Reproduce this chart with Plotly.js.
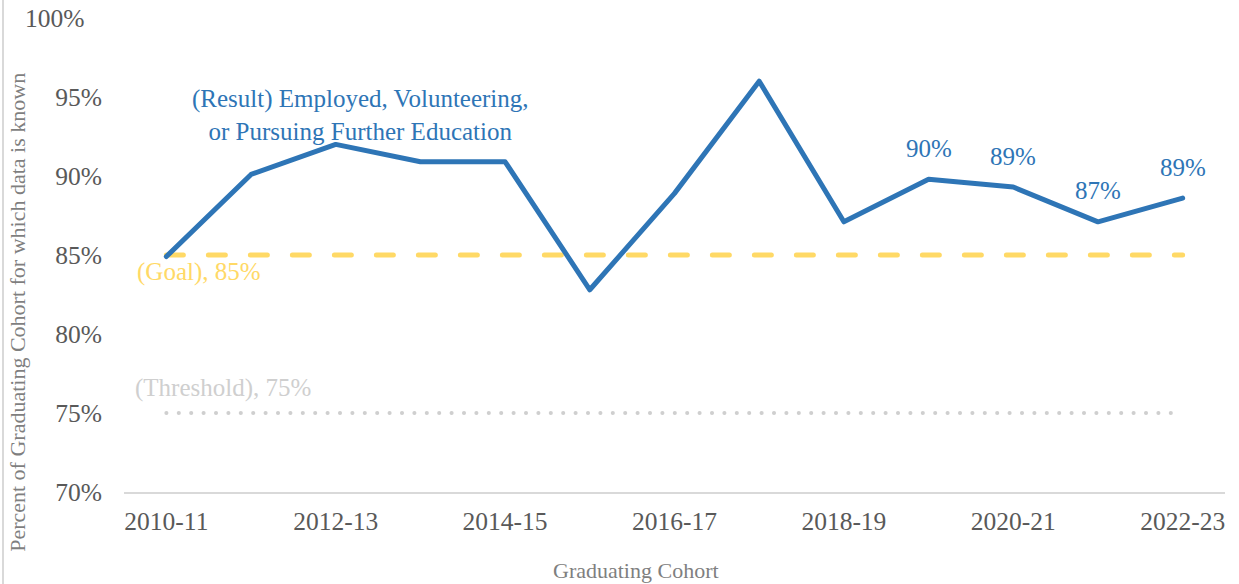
<!DOCTYPE html>
<html>
<head>
<meta charset="utf-8">
<script src="https://cdn.plot.ly/plotly-3.0.1.min.js"></script>
<style>
  html, body { margin: 0; padding: 0; background: #fff; }
  #wrap { position: relative; width: 1239px; height: 584px; }
  #chart { width: 1239px; height: 584px; }
  #edge { position: absolute; left: 2px; top: 0; width: 2px; height: 584px; background: #d9d9d9; z-index: 5; }
  .scatterlayer .js-line { stroke-linecap: round; stroke-linejoin: round; }
</style>
</head>
<body>
<div id="wrap">
  <div id="edge"></div>
  <div id="chart"></div>
</div>
<script>
// ---- data ----
const cohorts = ["2010-11","2011-12","2012-13","2013-14","2014-15","2015-16","2016-17",
                 "2017-18","2018-19","2019-20","2020-21","2021-22","2022-23"];
const resultValues = [84.9, 90.1, 92.0, 90.9, 90.9, 82.8, 88.9, 96.0, 87.1, 89.8, 89.3, 87.1, 88.6];
const goalValues = [85,85,85,85,85,85,85,85,85,85,85,85,85];
const thresholdValues = [75,75,75,75,75,75,75,75,75,75,75,75,75];
const dataLabels = ["","","","","","","","","","90%","89%","87%","89%"];
const xTickLabels = ["2010-11","2012-13","2014-15","2016-17","2018-19","2020-21","2022-23"];
const yTickValues = [70, 75, 80, 85, 90, 95];
const yTickLabels = ["70%","75%","80%","85%","90%","95%"];

const FONT = "Liberation Serif, Times New Roman, serif";
const BLUE = "#2E75B6";
const GOLD = "#FFD966";
const GREY = "#CFCFCF";
const TICK = "#595959";
const TITLE = "#7f7f7f";

const traces = [
  { x: cohorts, y: thresholdValues, mode: "lines", type: "scatter", hoverinfo: "skip",
    line: { color: GREY, width: 4, dash: "0.1px,12.3px" } },
  { x: cohorts, y: goalValues, mode: "lines", type: "scatter", hoverinfo: "skip",
    line: { color: GOLD, width: 5, dash: "17px,25px" } },
  { x: cohorts, y: resultValues, mode: "lines", type: "scatter", hoverinfo: "skip",
    line: { color: BLUE, width: 5 } }
];

const annotations = [];
dataLabels.forEach((t, i) => {
  if (!t) return;
  annotations.push({ x: cohorts[i], y: resultValues[i], xref: "x", yref: "y", text: t,
    showarrow: false, yshift: 31, font: { family: FONT, size: 25, color: BLUE } });
});
annotations.push({ x: 2.29, y: 93.85, xref: "x", yref: "y", showarrow: false,
  text: "(Result) Employed, Volunteering,<br>or Pursuing Further Education",
  align: "center", font: { family: FONT, size: 25, color: BLUE } });
annotations.push({ x: -0.37, y: 83.9, xref: "x", yref: "y", showarrow: false, xanchor: "left",
  text: "(Goal), 85%", font: { family: FONT, size: 25, color: GOLD } });
annotations.push({ x: -0.39, y: 76.6, xref: "x", yref: "y", showarrow: false, xanchor: "left",
  text: "(Threshold), 75%", font: { family: FONT, size: 25, color: GREY } });
annotations.push({ x: -0.0336, y: 100, xref: "paper", yref: "y", showarrow: false, xanchor: "right",
  text: "100%", font: { family: FONT, size: 25.5, color: TICK } });
// axis titles (placed like the reference, off-centre)
annotations.push({ x: 0.465, y: -0.1646, xref: "paper", yref: "paper", showarrow: false,
  xanchor: "center", yanchor: "middle",
  text: "Graduating Cohort", font: { family: FONT, size: 22, color: TITLE } });
annotations.push({ x: -0.0963, y: 0.38, xref: "paper", yref: "paper", showarrow: false,
  xanchor: "center", yanchor: "middle", textangle: -90,
  text: "Percent of Graduating Cohort for which data is known", font: { family: FONT, size: 22, color: TITLE } });

const layout = {
  width: 1239, height: 584,
  margin: { l: 124, r: 14, t: 18, b: 92 },
  paper_bgcolor: "#fff", plot_bgcolor: "#fff",
  showlegend: false,
  font: { family: FONT, color: TICK },
  xaxis: {
    type: "category", range: [-0.5, 12.5],
    tickmode: "array", tickvals: xTickLabels, ticktext: xTickLabels,
    showgrid: false, zeroline: false, ticks: "",
    showline: true, linecolor: "#d9d9d9", linewidth: 2,
    tickfont: { family: FONT, size: 25.5, color: TICK },
    ticklabelstandoff: 5,
    fixedrange: true
  },
  yaxis: {
    range: [70, 100], tickmode: "array", tickvals: yTickValues, ticktext: yTickLabels,
    showgrid: false, zeroline: false, ticks: "", showline: false,
    tickfont: { family: FONT, size: 25.5, color: TICK },
    ticklabelstandoff: 21,
    fixedrange: true
  },
  annotations: annotations
};

Plotly.newPlot("chart", traces, layout, { displayModeBar: false, staticPlot: true });
</script>
</body>
</html>
